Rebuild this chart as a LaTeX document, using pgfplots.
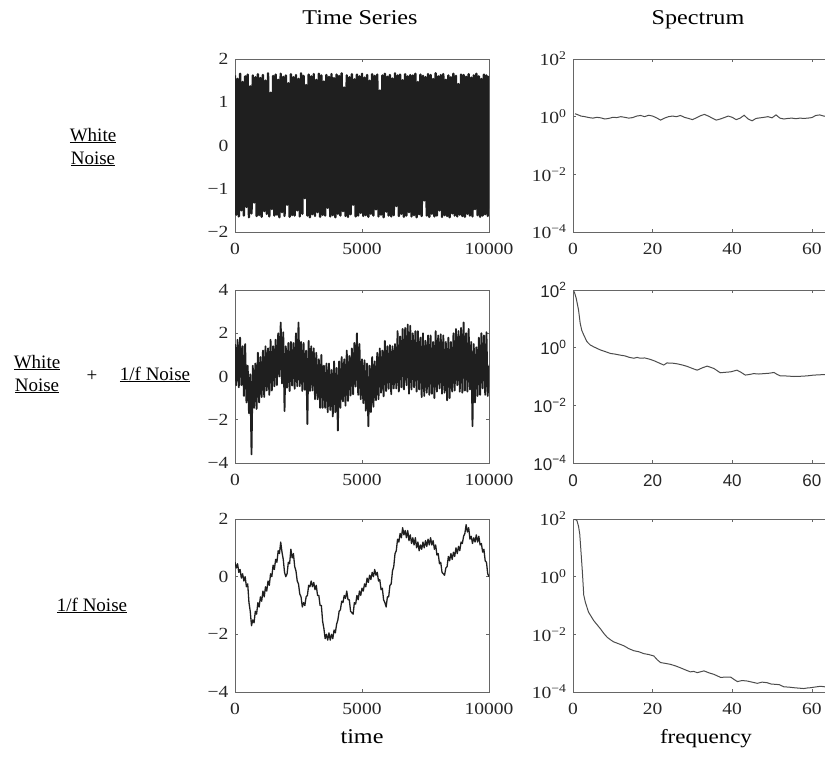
\documentclass[border=0pt]{standalone}
\usepackage{fontspec}
\setmainfont{Liberation Serif}
\newfontfamily\wide[FakeStretch=1.15]{Liberation Serif}
\newfontfamily\sansf{Liberation Sans}
\usepackage{pgfplots}
\pgfplotsset{compat=1.18}
\pgfplotsset{
  base/.style={scale only axis, axis line style={black!60, line width=0.9pt},
    tick style={black!60, line width=0.6pt}, major tick length=3pt, tick align=inside,
    ticklabel style={font=\wide\fontsize{17}{17}\selectfont, text=black!85},
    xticklabel style={yshift=-8pt}, yticklabel style={xshift=-3pt},
    scaled ticks=false, /pgf/number format/1000 sep={}, clip=true},
  ts/.style={base, width=254pt, height=173pt, xmin=0, xmax=10000,
    xtick={0,5000,10000}, xticklabels={0,5000,10000}, anchor=south west},
  sp/.style={base, width=398pt, height=173pt, xmin=0, xmax=100,
    ymin=1e-4, ymax=1e2, ytick={1e-4,1e-2,1,1e2}, yminorticks=false,
    yticklabels={10\textsuperscript{−4},10\textsuperscript{−2},10\textsuperscript{0},10\textsuperscript{2}},
    xtick={0,20,40,60}, xticklabels={0,20,40,60}, anchor=south west},
}
\begin{document}
\begin{tikzpicture}[x=1pt,y=1pt]
% ---------- row 1 : white noise ----------
\begin{axis}[ts, at={(235pt,-232pt)}, ymin=-2, ymax=2, ytick={-2,-1,0,1,2},
  yticklabels={−2,−1,0,1,2}]
\addplot[black!88, line width=2.4pt, line join=round] table[header=false, row sep=\\, x expr=\coordindex*50, y index=0] {
1.62\\ -1.60\\ 1.54\\ -1.64\\ 1.66\\ -1.50\\ 1.47\\ -1.62\\ 1.60\\ -1.42\\ 1.64\\ -1.66\\ 1.37\\ -1.57\\ 1.62\\ -1.32\\ 1.58\\ -1.63\\ 1.65\\ -1.61\\
1.56\\ -1.65\\ 1.63\\ -1.52\\ 1.50\\ -1.58\\ 1.67\\ -1.64\\ 1.22\\ -1.47\\ 1.61\\ -1.62\\ 1.64\\ -1.60\\ 1.52\\ -1.66\\ 1.66\\ -1.54\\ 1.59\\ -1.63\\
1.62\\ -1.37\\ 1.44\\ -1.65\\ 1.65\\ -1.61\\ 1.58\\ -1.62\\ 1.63\\ -1.50\\ 1.54\\ -1.64\\ 1.67\\ -1.58\\ 1.61\\ -1.22\\ 1.40\\ -1.62\\ 1.64\\ -1.66\\
1.60\\ -1.59\\ 1.65\\ -1.63\\ 1.52\\ -1.54\\ 1.66\\ -1.65\\ 1.62\\ -1.60\\ 1.48\\ -1.62\\ 1.63\\ -1.44\\ 1.59\\ -1.64\\ 1.65\\ -1.61\\ 1.56\\ -1.66\\
1.64\\ -1.58\\ 1.61\\ -1.62\\ 1.67\\ -1.52\\ 1.34\\ -1.63\\ 1.62\\ -1.65\\ 1.58\\ -1.59\\ 1.65\\ -1.37\\ 1.53\\ -1.64\\ 1.64\\ -1.62\\ 1.60\\ -1.56\\
1.66\\ -1.63\\ 1.57\\ -1.61\\ 1.63\\ -1.65\\ 1.50\\ -1.58\\ 1.65\\ -1.62\\ 1.61\\ -1.48\\ 1.64\\ -1.64\\ 1.27\\ -1.60\\ 1.62\\ -1.66\\ 1.66\\ -1.53\\
1.59\\ -1.62\\ 1.63\\ -1.64\\ 1.55\\ -1.61\\ 1.67\\ -1.40\\ 1.62\\ -1.63\\ 1.64\\ -1.58\\ 1.51\\ -1.65\\ 1.65\\ -1.62\\ 1.60\\ -1.54\\ 1.63\\ -1.64\\
1.62\\ -1.61\\ 1.66\\ -1.66\\ 1.47\\ -1.59\\ 1.64\\ -1.63\\ 1.61\\ -1.27\\ 1.58\\ -1.62\\ 1.65\\ -1.65\\ 1.63\\ -1.58\\ 1.54\\ -1.64\\ 1.67\\ -1.62\\
1.60\\ -1.50\\ 1.63\\ -1.65\\ 1.65\\ -1.61\\ 1.52\\ -1.63\\ 1.62\\ -1.66\\ 1.58\\ -1.57\\ 1.66\\ -1.62\\ 1.61\\ -1.64\\ 1.42\\ -1.60\\ 1.64\\ -1.63\\
1.63\\ -1.65\\ 1.59\\ -1.58\\ 1.65\\ -1.62\\ 1.57\\ -1.64\\ 1.62\\ -1.47\\ 1.66\\ -1.61\\ 1.60\\ -1.65\\ 1.54\\ -1.62\\ 1.64\\ -1.59\\ 1.62\\ -1.63\\
1.61\\
};
\end{axis}
\begin{semilogyaxis}[sp, at={(573pt,-232pt)}]
\addplot[black!70, line width=1pt] coordinates {
(0.5,1.26)(1,1.20)(2,1.05)(3,1.00)(4,0.93)(5,0.89)(6,0.95)(7,0.91)(8,0.83)(9,0.87)
(10,0.95)(11,0.93)(12,1.00)(13,0.95)(14,0.89)(15,0.93)(16,1.05)(17,1.10)(18,1.00)(19,1.12)
(20,1.05)(21,0.91)(22,0.76)(23,0.89)(24,1.00)(25,1.05)(26,1.00)(27,1.10)(28,0.95)(29,0.87)
(30,0.79)(31,0.91)(32,1.07)(33,1.20)(34,1.05)(35,0.89)(36,0.76)(37,0.83)(38,0.93)(39,1.05)
(40,0.95)(41,0.79)(42,0.89)(43,1.12)(44,0.83)(45,0.72)(46,0.87)(47,0.91)(48,0.95)(49,1.00)
(50,0.91)(51,1.15)(52,0.89)(53,0.83)(54,0.87)(55,0.89)(56,0.85)(57,0.89)(58,0.87)(59,0.89)
(60,0.93)(61,1.10)(62,1.15)(63,1.05)(64,1.00)(65,0.93)(66,1.05)(67,1.00)
};
\end{semilogyaxis}
% ---------- row 2 : white + 1/f ----------
\begin{axis}[ts, at={(235pt,-463pt)}, ymin=-4, ymax=4, ytick={-4,-2,0,2,4},
  yticklabels={−4,−2,0,2,4}]
\addplot[black!88, line width=1.8pt, line join=round] table[header=false, row sep=\\, x expr=\coordindex*50, y index=0] {
1.5\\ -0.4\\ 1.7\\ -0.5\\ 1.8\\ -0.4\\ 1.4\\ -0.9\\ 1.5\\ -1.2\\
0.5\\ -1.7\\ 0.1\\ -3.6\\ 0.5\\ -1.45\\ 0.6\\ -1.5\\ 1.1\\ -1.2\\
0.9\\ -0.95\\ 1.2\\ -0.95\\ 1.4\\ -0.65\\ 1.3\\ -0.85\\ 1.7\\ -0.65\\
1.4\\ -0.45\\ 1.7\\ -0.4\\ 2.0\\ 0.0\\ 2.5\\ -0.32\\ 2.05\\ -1.6\\
1.4\\ -0.52\\ 1.55\\ -0.67\\ 1.6\\ -0.42\\ 1.55\\ -0.57\\ 2.0\\ -0.45\\
2.5\\ -0.45\\ 1.6\\ -0.67\\ 1.55\\ -0.62\\ 1.2\\ -2.2\\ 1.65\\ -0.67\\
1.4\\ -0.65\\ 1.3\\ -1.05\\ 1.1\\ -1.05\\ 0.8\\ -1.45\\ 1.0\\ -1.45\\
0.5\\ -1.45\\ 0.6\\ -1.65\\ 0.6\\ -1.55\\ 0.3\\ -1.85\\ 0.7\\ -1.65\\
0.4\\ -2.5\\ 0.7\\ -1.45\\ 0.9\\ -1.15\\ 0.8\\ -1.35\\ 1.2\\ -1.13\\
0.95\\ -0.88\\ 1.3\\ -0.82\\ 1.55\\ -0.47\\ 2.0\\ -0.85\\ 1.5\\ -1.05\\
0.8\\ -1.23\\ 0.75\\ -1.58\\ 0.6\\ -2.3\\ 0.5\\ -1.65\\ 0.9\\ -1.4\\
0.7\\ -1.1\\ 1.1\\ -1.05\\ 1.3\\ -0.75\\ 1.2\\ -0.92\\ 1.65\\ -0.67\\
1.4\\ -0.57\\ 1.45\\ -0.82\\ 1.4\\ -0.55\\ 1.5\\ -0.55\\ 2.1\\ -0.7\\
1.85\\ -0.5\\ 2.2\\ -0.6\\ 2.25\\ -0.4\\ 2.4\\ -0.8\\ 2.35\\ -0.6\\
2.0\\ -0.5\\ 2.1\\ -0.7\\ 2.1\\ -0.6\\ 1.8\\ -0.95\\ 2.0\\ -0.9\\
1.65\\ -0.75\\ 1.9\\ -0.85\\ 1.9\\ -0.8\\ 1.6\\ -1.0\\ 2.1\\ -0.7\\
1.9\\ -0.55\\ 1.95\\ -0.8\\ 1.9\\ -0.75\\ 1.6\\ -1.1\\ 1.8\\ -1.0\\
1.6\\ -0.7\\ 2.0\\ -0.65\\ 2.2\\ -0.4\\ 2.1\\ -0.7\\ 2.25\\ -0.75\\
2.5\\ -0.65\\ 2.0\\ -0.7\\ 2.2\\ -0.6\\ 1.6\\ -2.3\\ 1.5\\ -1.2\\
1.35\\ -0.9\\ 1.8\\ -0.85\\ 2.0\\ -0.55\\ 1.9\\ -0.85\\ 2.05\\ -0.9\\
0.5\\
};
\end{axis}
\begin{semilogyaxis}[sp, at={(573pt,-463pt)}, ticklabel style={font=\sansf\fontsize{17}{17}\selectfont}]
\addplot[black!70, line width=1pt] coordinates {
(0.3,89)(0.8,52)(1.4,20)(1.8,7.1)(2.2,4.0)(2.7,2.75)(3.5,1.62)(4.3,1.25)(5.2,1.07)(6.0,0.95)
(6.9,0.83)(8.0,0.74)(9.4,0.63)(10.5,0.60)(11.9,0.55)(13.0,0.52)(14.2,0.46)(15.3,0.43)(16.1,0.46)(16.9,0.43)
(18.0,0.44)(19.2,0.40)(20.3,0.355)(21.5,0.30)(22.8,0.25)(23.6,0.295)(25.0,0.29)(26.2,0.275)(27.5,0.25)(28.7,0.224)
(30.0,0.19)(31.2,0.166)(32.5,0.20)(33.7,0.229)(34.5,0.21)(35.4,0.19)(36.2,0.16)(37.0,0.135)(38.3,0.14)(39.6,0.145)
(40.4,0.155)(41.2,0.166)(42.2,0.14)(43.3,0.112)(44.4,0.118)(45.4,0.126)(46.7,0.122)(48.0,0.126)(49.3,0.13)(50.5,0.138)
(51.3,0.118)(52.1,0.105)(53.8,0.104)(55.5,0.100)(57.2,0.102)(58.8,0.105)(60.5,0.112)(61.8,0.114)(63.0,0.117)(64.5,0.113)(66,0.115)
};
\end{semilogyaxis}
% ---------- row 3 : 1/f noise ----------
\begin{axis}[ts, at={(235pt,-692pt)}, ymin=-4, ymax=2, ytick={-4,-2,0,2},
  yticklabels={−4,−2,0,2}]
\addplot[black!88, line width=1.3pt, line join=round] table[header=false, row sep=\\, x expr=\coordindex*50, y index=0] {
0.5\\ 0.3\\ 0.45\\ 0.15\\ 0.25\\ -0.05\\ 0.1\\ -0.15\\ 0.0\\ -0.35\\
-0.25\\ -0.9\\ -1.2\\ -1.7\\ -1.5\\ -1.6\\ -1.2\\ -1.3\\ -0.9\\ -1.05\\
-0.7\\ -0.85\\ -0.5\\ -0.7\\ -0.35\\ -0.5\\ -0.15\\ -0.3\\ 0.1\\ 0.0\\
0.4\\ 0.25\\ 0.6\\ 0.5\\ 0.9\\ 0.8\\ 1.2\\ 0.85\\ 0.6\\ 0.15\\
0.0\\ 0.1\\ 0.5\\ 0.45\\ 0.95\\ 0.65\\ 0.8\\ 0.35\\ 0.2\\ -0.15\\
-0.25\\ -0.6\\ -0.7\\ -1.05\\ -0.9\\ -1.0\\ -0.7\\ -0.65\\ -0.3\\ -0.35\\
-0.15\\ -0.35\\ -0.2\\ -0.45\\ -0.3\\ -0.65\\ -0.65\\ -1.0\\ -1.0\\ -1.55\\
-1.8\\ -2.15\\ -2.0\\ -2.2\\ -1.95\\ -2.2\\ -2.0\\ -2.15\\ -1.85\\ -1.95\\
-1.65\\ -1.5\\ -1.2\\ -1.15\\ -0.85\\ -0.9\\ -0.65\\ -0.75\\ -0.5\\ -0.8\\
-0.8\\ -1.2\\ -1.25\\ -1.3\\ -0.9\\ -0.95\\ -0.65\\ -0.8\\ -0.5\\ -0.65\\
-0.4\\ -0.5\\ -0.25\\ -0.35\\ -0.05\\ -0.2\\ 0.05\\ -0.1\\ 0.15\\ 0.0\\
0.25\\ 0.05\\ 0.15\\ -0.15\\ -0.1\\ -0.45\\ -0.4\\ -0.8\\ -0.9\\ -1.05\\
-0.7\\ -0.7\\ -0.3\\ -0.25\\ 0.2\\ 0.35\\ 0.8\\ 0.9\\ 1.3\\ 1.2\\
1.5\\ 1.35\\ 1.7\\ 1.45\\ 1.6\\ 1.35\\ 1.6\\ 1.25\\ 1.45\\ 1.15\\
1.35\\ 1.1\\ 1.35\\ 1.0\\ 1.2\\ 0.9\\ 1.1\\ 0.95\\ 1.2\\ 1.0\\
1.25\\ 1.05\\ 1.3\\ 1.1\\ 1.35\\ 1.1\\ 1.25\\ 0.95\\ 1.1\\ 0.75\\
0.8\\ 0.45\\ 0.5\\ 0.15\\ 0.1\\ 0.05\\ 0.3\\ 0.35\\ 0.7\\ 0.55\\
0.8\\ 0.6\\ 0.85\\ 0.7\\ 1.0\\ 0.8\\ 1.05\\ 0.9\\ 1.2\\ 1.15\\
1.4\\ 1.5\\ 1.8\\ 1.55\\ 1.7\\ 1.3\\ 1.4\\ 1.15\\ 1.35\\ 1.2\\
1.45\\ 1.2\\ 1.4\\ 1.1\\ 1.15\\ 0.85\\ 0.95\\ 0.55\\ 0.5\\ 0.1\\
0.0\\
};
\end{axis}
\begin{semilogyaxis}[sp, at={(573pt,-692pt)}]
\addplot[black!70, line width=1pt] coordinates {
(0.3,95)(0.6,98)(1.0,87)(1.4,55)(1.7,29.5)(2.0,7.6)(2.35,1.5)(2.7,0.23)(3.1,0.13)(3.9,0.059)
(5.2,0.030)(6.0,0.022)(6.9,0.0155)(7.8,0.0105)(8.6,0.0079)(9.4,0.0065)(10.2,0.0055)(11.5,0.0047)(12.8,0.0040)(14.0,0.0032)
(15.3,0.0027)(16.5,0.0025)(17.8,0.00214)(19.0,0.0020)(20.3,0.00178)(21.2,0.0013)(22.0,0.00105)(23.3,0.00098)(24.5,0.00091)(25.8,0.00080)
(27.0,0.00069)(28.3,0.00058)(29.5,0.00050)(30.3,0.00052)(31.2,0.00047)(32.0,0.00050)(32.9,0.00054)(34.2,0.00046)(35.4,0.00041)(36.3,0.00036)
(37.1,0.00032)(38.3,0.00033)(39.6,0.00033)(40.5,0.00027)(41.3,0.00023)(42.5,0.00025)(43.8,0.00024)(45.0,0.00022)(46.3,0.00020)(47.5,0.00022)
(48.8,0.00021)(49.7,0.00019)(50.5,0.000186)(51.8,0.00018)(53.0,0.000151)(54.2,0.000148)(55.5,0.000141)(56.8,0.000136)(58.0,0.000132)(58.9,0.000138)
(59.7,0.000141)(61.0,0.000150)(62.2,0.000158)(63.5,0.000150)(65,0.000142)(66,0.00014)
};
\end{semilogyaxis}
% ---------- texts ----------
\begin{scope}[every node/.style={anchor=base, font=\wide\fontsize{21}{21}\selectfont}]
\node at (360pt,-25pt) {Time Series};
\node at (698pt,-25pt) {Spectrum};
\node at (362pt,-743pt) {time};
\node[font=\wide\fontsize{20}{20}\selectfont] at (706pt,-743pt) {frequency};
\end{scope}
\begin{scope}[every node/.style={anchor=base, font=\fontsize{19}{19}\selectfont}]
\node at (93pt,-141pt) {\underline{White}};
\node at (93pt,-164pt) {\underline{Noise}};
\node at (37pt,-368pt) {\underline{White}};
\node at (37pt,-391pt) {\underline{Noise}};
\node at (92pt,-381pt) {+};
\node at (155pt,-380pt) {\underline{1/f Noise}};
\node at (92pt,-611pt) {\underline{1/f Noise}};
\end{scope}
\pgfresetboundingbox
\path[use as bounding box] (0pt,0pt) rectangle (825pt,-760pt);
\end{tikzpicture}
\end{document}
